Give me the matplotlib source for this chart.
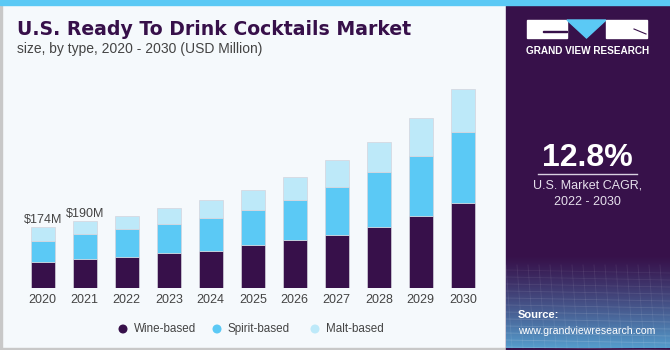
import matplotlib
matplotlib.use("Agg")
import matplotlib.pyplot as plt
import numpy as np
from matplotlib.patches import Rectangle, Polygon, Circle

years = ["2020", "2021", "2022", "2023", "2024", "2025", "2026", "2027", "2028", "2029", "2030"]
wine = [75, 84, 90, 99, 106, 122, 137, 151, 173, 205, 241]
spirit = [59, 69, 78, 84, 93, 100, 115, 137, 156, 172, 202]
malt = [40, 37, 36, 44, 51, 58, 65, 76, 87, 106, 124]
labels = {0: "$174M", 1: "$190M"}
series_names = ["Wine-based", "Spirit-based", "Malt-based"]
colors = ["#37104a", "#5bc9f5", "#bde9f9"]

W, H = 670, 350
fig = plt.figure(figsize=(W / 100, H / 100), dpi=100)

# background axes in pixel coords
bg = fig.add_axes([0, 0, 1, 1], zorder=0)
bg.set_xlim(0, W)
bg.set_ylim(H, 0)
bg.axis("off")
bg.add_patch(Rectangle((0, 0), W, H, color="#f5f9fc"))
bg.add_patch(Rectangle((0, 0), 1.5, H, color="#c8c8c8"))
bg.add_patch(Rectangle((0, 347.5), W, 2.5, color="#c8c8c8"))

# right panel
px0 = 506
bg.add_patch(Rectangle((px0, 0), W - px0, H, color="#37114a"))
grad = np.linspace(0, 1, 100)[:, None]
c1 = np.array([0x37, 0x11, 0x4a]) / 255
c2 = np.array([0x55, 0x9c, 0xcc]) / 255
img = c1[None, None, :] * (1 - grad[..., None] ** 1.2) + c2[None, None, :] * grad[..., None] ** 1.2
bg.imshow(img, extent=(px0, W, 348, 255), aspect="auto", zorder=1)
for i in range(12):
    yy = 270 + i * 7
    bg.plot([px0, W], [yy, yy + 3], color="white", alpha=0.06 + 0.01 * i, lw=0.6, zorder=2)
for i in range(16):
    xx = px0 + i * 11
    bg.plot([xx, xx + 6], [265, 348], color="white", alpha=0.08, lw=0.6, zorder=2)
bg.add_patch(Rectangle((0, 0), W, 5, color="#5bc9f5", zorder=3))

# logo
bg.add_patch(Rectangle((527, 20), 40, 18, color="white", zorder=3))
bg.add_patch(Rectangle((543, 31), 24, 1.2, color="#37114a", zorder=4))
bg.add_patch(Polygon([(567, 20), (606, 20), (586.5, 38)], color="#5bc9f5", zorder=3))
bg.add_patch(Rectangle((606, 20), 41, 18, color="white", zorder=3))
bg.plot([634, 646], [29, 34], color="#37114a", lw=0.8, zorder=4)
bg.text(587.5, 51, "GRAND VIEW RESEARCH", color="white", fontsize=7.2, fontweight="bold",
        ha="center", va="center", family="Liberation Sans", zorder=4)

bg.text(587.5, 166, "12.8%", color="white", fontsize=23, fontweight="bold",
        ha="center", va="baseline", family="Liberation Sans", zorder=4)
bg.plot([538, 637], [173.5, 173.5], color="#d8d0e0", lw=1, zorder=4)
bg.text(587.5, 185, "U.S. Market CAGR,", color="#e6e0ec", fontsize=9,
        ha="center", va="center", family="Liberation Sans", zorder=4)
bg.text(587.5, 202, "2022 - 2030", color="#e6e0ec", fontsize=9,
        ha="center", va="center", family="Liberation Sans", zorder=4)
bg.text(518, 315, "Source:", color="white", fontsize=8, fontweight="bold",
        ha="left", va="center", family="Liberation Sans", zorder=4)
bg.text(518, 331, "www.grandviewresearch.com", color="white", fontsize=7.6,
        ha="left", va="center", family="Liberation Sans", zorder=4)

# titles
bg.text(17, 35, "U.S. Ready To Drink Cocktails Market", color="#37104a", fontsize=13.6,
        fontweight="bold", ha="left", va="baseline", family="DejaVu Sans", zorder=4)
bg.text(17, 53, "size, by type, 2020 - 2030 (USD Million)", color="#444444", fontsize=10,
        ha="left", va="baseline", family="Liberation Sans", zorder=4)

# main bar axes
ax_left, ax_right = 21.8, 483.8
ax_bot, ax_top = 288.3, 80
ax = fig.add_axes([ax_left / W, 1 - ax_bot / H, (ax_right - ax_left) / W, (ax_bot - ax_top) / H], zorder=5)
ax.patch.set_alpha(0)
x = np.arange(len(years))
bw = 0.58
bottom = np.zeros(len(years))
for vals, col in zip([wine, spirit, malt], colors):
    ax.bar(x, vals, bw, bottom=bottom, color=col, edgecolor="#d4d4dc", linewidth=0.5)
    bottom += np.array(vals)
for i, t in labels.items():
    ax.text(x[i], bottom[i] + 4, t, ha="center", va="bottom", fontsize=9,
            color="#444444", family="Liberation Sans")
ax.set_xlim(-0.5, len(years) - 0.5)
ax.set_ylim(0, (ax_bot - ax_top) * 2.84)
ax.set_xticks(x)
ax.set_xticklabels(years, fontsize=9, color="#444444", family="Liberation Sans")
ax.tick_params(axis="x", length=0, pad=4)
ax.set_yticks([])
for s in ax.spines.values():
    s.set_visible(False)

# legend (manual, pixel coords)
leg_x = [123, 217, 315]
for lx, name, col in zip(leg_x, series_names, colors):
    bg.add_patch(Circle((lx, 329), 3.8, color=col, zorder=4))
    bg.text(lx + 11, 329, name, ha="left", va="center", fontsize=8.4, color="#444444",
            family="Liberation Sans", zorder=4)

fig.savefig("out.png", dpi=100)
